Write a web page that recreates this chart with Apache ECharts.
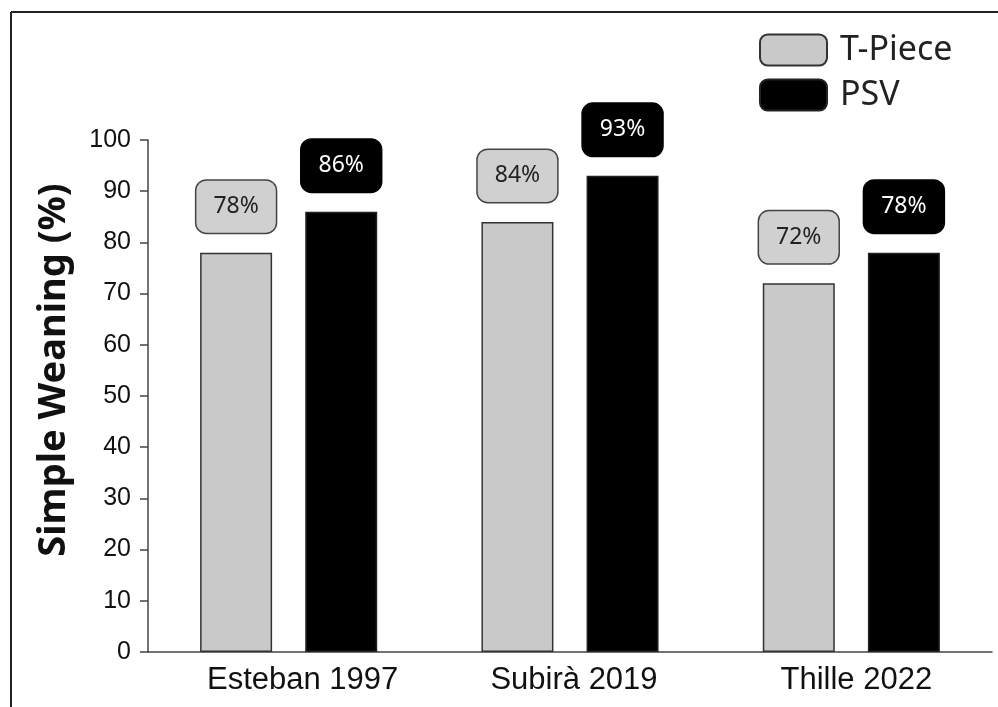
<!DOCTYPE html>
<html>
<head>
<meta charset="utf-8">
<script src="https://cdn.jsdelivr.net/npm/echarts@6/dist/echarts.min.js"></script>
<style>
  html, body { margin: 0; padding: 0; background: #fff; }
  #main { width: 998px; height: 707px; }
</style>
</head>
<body>
<div id="main"></div>
<script>
// data
var studies = ['Esteban 1997', 'Subirà 2019', 'Thille 2022'];
var tPiece = [78, 84, 72];
var psv = [86, 93, 78];
var yTicks = [0, 10, 20, 30, 40, 50, 60, 70, 80, 90, 100];

var chart = echarts.init(document.getElementById('main'));

// category labels sit a bit right of their ticks in the original
var labelPadLeft = [28, 8, 10];

function boxLabel(bg, fg, border) {
  return {
    show: true,
    position: 'top',
    distance: 20,
    formatter: '{c}%',
    fontFamily: 'Noto Sans',
    fontSize: 23,
    lineHeight: 24,
    color: fg,
    backgroundColor: bg,
    borderColor: border,
    borderWidth: 1.5,
    borderRadius: 10,
    padding: [14, 17, 14, 17]
  };
}

var option = {
  backgroundColor: '#fff',
  animation: false,
  grid: { left: 148, right: 6, top: 140, bottom: 55 },
  legend: {
    orient: 'vertical',
    left: 759,
    top: 33,
    padding: 0,
    itemWidth: 67,
    itemHeight: 31,
    itemGap: 11,
    icon: 'roundRect',
    textStyle: { fontFamily: 'Noto Sans', fontSize: 34, lineHeight: 31, color: '#222', padding: [0, 0, 0, 8] },
    data: ['T-Piece', 'PSV']
  },
  xAxis: {
    type: 'category',
    data: studies.map(function (s, i) {
      return { value: s, textStyle: { padding: [0, 0, 0, labelPadLeft[i]] } };
    }),
    axisLine: { lineStyle: { color: '#444', width: 1.5 } },
    axisTick: { alignWithLabel: true, length: 8, lineStyle: { color: '#444', width: 1.5 } },
    axisLabel: { fontFamily: 'Liberation Sans', fontSize: 31, color: '#111', margin: 13 }
  },
  yAxis: {
    type: 'value',
    min: 0,
    max: 100,
    interval: 10,
    name: 'Simple Weaning (%)',
    nameLocation: 'middle',
    nameGap: 75,
    nameTextStyle: {
      fontFamily: 'Noto Sans', fontWeight: 'bold', fontSize: 38, color: '#111',
      padding: [0, 0, 0, 52]
    },
    axisLine: { show: true, lineStyle: { color: '#444', width: 1.5 } },
    axisTick: { show: true, length: 8, lineStyle: { color: '#444', width: 1.5 } },
    axisLabel: {
      fontFamily: 'Liberation Sans', fontSize: 25, color: '#111', margin: 17,
      formatter: function (v) { return yTicks.indexOf(v) >= 0 ? v : ''; }
    },
    splitLine: { show: false }
  },
  series: [
    {
      name: 'T-Piece',
      type: 'bar',
      data: tPiece,
      barWidth: 72,
      barGap: '46%',
      itemStyle: { color: '#c9c9c9', borderColor: '#333', borderWidth: 1.5 },
      label: boxLabel('#d0d0d0', '#222', '#444')
    },
    {
      name: 'PSV',
      type: 'bar',
      data: psv,
      barWidth: 72,
      itemStyle: { color: '#000', borderColor: '#222', borderWidth: 1.5 },
      label: boxLabel('#000', '#fff', '#000')
    }
  ],
  graphic: [
    // frame lines on the left and top only
    { type: 'line', shape: { x1: 11, y1: 12, x2: 11, y2: 707 }, style: { stroke: '#222', lineWidth: 2 } },
    { type: 'line', shape: { x1: 11, y1: 12, x2: 998, y2: 12 }, style: { stroke: '#222', lineWidth: 2 } }
  ]
};

chart.setOption(option);
</script>
</body>
</html>
